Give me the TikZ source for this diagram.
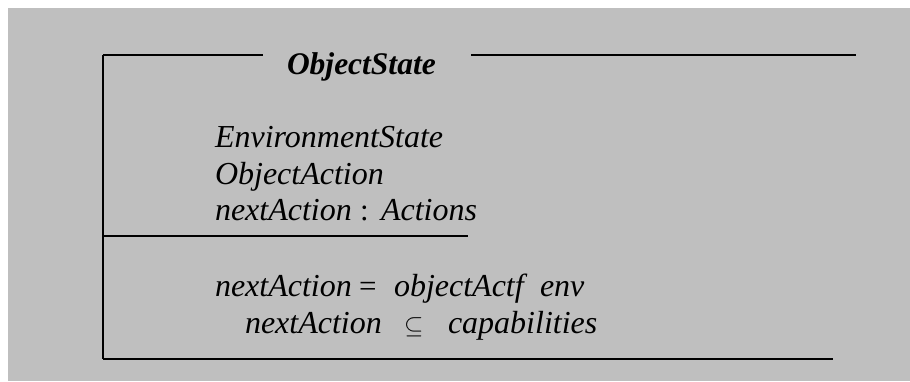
\documentclass[tikz,border=0pt]{standalone}
\usepackage{fontspec}
\setmainfont{Liberation Serif}
\definecolor{panel}{RGB}{191,191,191}
\tikzset{
  rule/.style={line width=2.8pt, black},
  txt/.style={anchor=base west, inner sep=0pt, outer sep=0pt,
              font=\fontsize{32}{32}\selectfont\itshape},
  ttl/.style={txt, font=\fontsize{31.5}{32}\selectfont\bfseries\itshape},
  op/.style={anchor=base west, inner sep=0pt, outer sep=0pt,
             font=\fontsize{31}{31}\selectfont},
}
\begin{document}
\begin{tikzpicture}[x=1pt,y=-1pt]
  % page and grey panel
  \fill[white] (0,0) rectangle (910,381);
  \fill[panel] (8,8) rectangle (910,381);
  \useasboundingbox (0,0) rectangle (910,381);

  % schema frame corners
  \coordinate (tl) at (103,55);
  \coordinate (tlend) at (263,55);
  \coordinate (trstart) at (471,55);
  \coordinate (tr) at (856,55);
  \coordinate (ml) at (103,236);
  \coordinate (mr) at (468,236);
  \coordinate (bl) at (103,359);
  \coordinate (br) at (833,359);

  \draw[rule] (tl) -- (tlend);
  \draw[rule] (trstart) -- (tr);
  \draw[line width=2.3pt] (tl) -- (bl);
  \draw[rule] (ml) -- (mr);
  \draw[rule] (bl) -- (br);

  % schema name
  \node[ttl] (name) at (287,74) {ObjectState};

  % declarations
  \node[txt] (env)  at (215,147) {EnvironmentState};
  \node[txt] (oact) at (215,184) {ObjectAction};
  \node[txt] (nxt)  at (215,220) {nextAction};
  \node[op]  (col)  at (360,220) {:};
  \node[txt] (acts) at (381,220) {Actions};

  % predicates
  \node[txt] (p1a) at (215,296) {nextAction};
  \node[op]  (p1b) at (359,296) {=};
  \node[txt] (p1c) at (394,296) {objectActf};
  \node[txt] (p1d) at (540,296) {env};

  \node[txt] (p2a) at (245,333) {nextAction};
  \node[op, font=\fontsize{25}{25}\selectfont] (p2b) at (404,333) {$\subseteq$};
  \node[txt] (p2c) at (448,333) {capabilities};
\end{tikzpicture}
\end{document}
